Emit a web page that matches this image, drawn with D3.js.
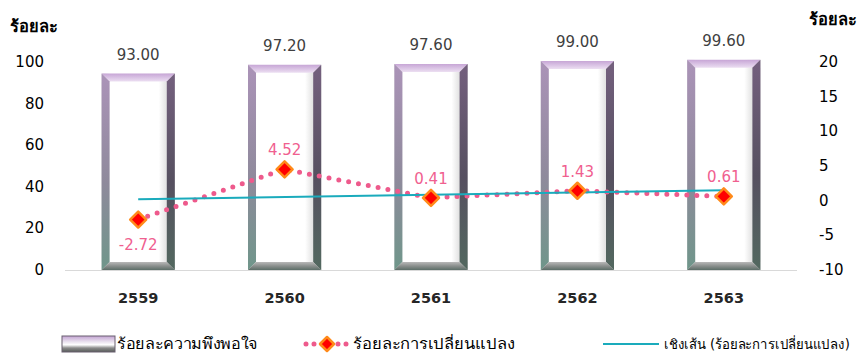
<!DOCTYPE html>
<html>
<head>
<meta charset="utf-8">
<title>chart</title>
<script src="https://cdn.jsdelivr.net/npm/d3@7"></script>
<style>
  body { margin: 0; background: #fff; }
  text { font-family: Tahoma, "DejaVu Sans", "Noto Sans", sans-serif; }
</style>
</head>
<body>
<div id="chart"></div>
<script>
var years = ["2559", "2560", "2561", "2562", "2563"];
var satisfaction = [93.00, 97.20, 97.60, 99.00, 99.60];
var change = [-2.72, 4.52, 0.41, 1.43, 0.61];
var trendEnds = [0.2, 1.5];   // trend at first and last year
var leftTicks = [0, 20, 40, 60, 80, 100];
var rightTicks = [-10, -5, 0, 5, 10, 15, 20];
var legendNames = ["ร้อยละความพึงพอใจ", "ร้อยละการเปลี่ยนแปลง", "เชิงเส้น (ร้อยละการเปลี่ยนแปลง)"];

var width = 863, height = 356;
var plotL = 65, plotR = 797, plotT = 62, plotB = 270;
var bevel = 8;

var svg = d3.select("#chart").append("svg").attr("width", width).attr("height", height);
var defs = svg.append("defs");

function grad(id, x2, y2, stops) {
  var g = defs.append("linearGradient").attr("id", id)
    .attr("x1", 0).attr("y1", 0).attr("x2", x2).attr("y2", y2);
  stops.forEach(function(s) { g.append("stop").attr("offset", s[0]).attr("stop-color", s[1]); });
}
grad("bTop", 0, 1, [[0, "#c7a6d6"], [1, "#ecdff2"]]);
grad("bLeft", 0, 1, [[0, "#ab93b8"], [0.55, "#8f8a9c"], [1, "#6f968a"]]);
grad("bRight", 0, 1, [[0, "#74607e"], [0.55, "#565060"], [1, "#52685f"]]);
grad("bBot", 0, 1, [[0, "#b8b8b8"], [0.5, "#8a8f8d"], [1, "#5c6e68"]]);
grad("inner", 1, 0, [[0, "#d6d6d6"], [0.12, "#ffffff"], [0.78, "#ffffff"], [1, "#c4c4c4"]]);
grad("legSw", 0, 1, [[0, "#c2a3d2"], [0.35, "#e9e0ee"], [0.55, "#ffffff"], [0.75, "#8b8b8b"], [1, "#555a58"]]);

var x = d3.scaleBand().domain(years).range([plotL, plotR]).paddingInner(0.5).paddingOuter(0.25);
var yL = d3.scaleLinear().domain([0, 100]).range([plotB, plotT]);
var yR = d3.scaleLinear().domain([-10, 20]).range([plotB, plotT]);

// base line
svg.append("line").attr("x1", plotL).attr("x2", plotR).attr("y1", plotB + 0.5).attr("y2", plotB + 0.5)
  .attr("stroke", "#d9d9d9").attr("stroke-width", 1);

// bars with bevel
var bw = x.bandwidth();
years.forEach(function(yr, i) {
  var x0 = x(yr), x1 = x0 + bw, y0 = yL(satisfaction[i]) - 3, y1 = plotB;
  var g = svg.append("g");
  g.append("rect").attr("x", x0).attr("y", y0).attr("width", bw).attr("height", y1 - y0).attr("fill", "url(#inner)");
  g.append("polygon").attr("points", [[x0, y0], [x1, y0], [x1 - bevel, y0 + bevel], [x0 + bevel, y0 + bevel]].join(" ")).attr("fill", "url(#bTop)");
  g.append("polygon").attr("points", [[x0, y0], [x0 + bevel, y0 + bevel], [x0 + bevel, y1 - bevel], [x0, y1]].join(" ")).attr("fill", "url(#bLeft)");
  g.append("polygon").attr("points", [[x1, y0], [x1 - bevel, y0 + bevel], [x1 - bevel, y1 - bevel], [x1, y1]].join(" ")).attr("fill", "url(#bRight)");
  g.append("polygon").attr("points", [[x0, y1], [x0 + bevel, y1 - bevel], [x1 - bevel, y1 - bevel], [x1, y1]].join(" ")).attr("fill", "url(#bBot)");
  g.append("text").attr("x", x0 + bw / 2).attr("y", y0 - 14).attr("text-anchor", "middle")
    .attr("font-size", 15).attr("fill", "#404040").text(satisfaction[i].toFixed(2));
});

var cx = function(i) { return x(years[i]) + bw / 2; };

// dotted change line
var line = d3.line().x(function(d, i) { return cx(i); }).y(function(d) { return yR(d); });
svg.append("path").datum(change).attr("d", line).attr("fill", "none")
  .attr("stroke", "#ee5a8c").attr("stroke-width", 5).attr("stroke-linecap", "round")
  .attr("stroke-dasharray", "0 10");

// trend line
svg.append("line")
  .attr("x1", cx(0)).attr("y1", yR(trendEnds[0]))
  .attr("x2", cx(years.length - 1)).attr("y2", yR(trendEnds[1]))
  .attr("stroke", "#1aabbc").attr("stroke-width", 2);

// diamonds
function diamond(g, px, py, r) {
  g.append("path").attr("d", "M" + px + "," + (py - r) + "L" + (px + r) + "," + py + "L" + px + "," + (py + r) + "L" + (px - r) + "," + py + "Z")
    .attr("fill", "#ff0000").attr("stroke", "#ff8a1a").attr("stroke-width", 2.5).attr("stroke-linejoin", "round");
}
change.forEach(function(v, i) {
  diamond(svg, cx(i), yR(v), 8);
  var ty = v < 0 ? yR(v) + 30 : yR(v) - 14;
  svg.append("text").attr("x", cx(i)).attr("y", ty).attr("text-anchor", "middle")
    .attr("font-size", 15).attr("fill", "#f0608f").text(v.toFixed(2));
});

// left axis
svg.selectAll(".lt").data(leftTicks).enter().append("text")
  .attr("x", 44).attr("y", function(d) { return yL(d) + 5; }).attr("text-anchor", "end")
  .attr("font-size", 15).attr("fill", "#000").text(function(d) { return d; });
svg.append("text").attr("x", 10).attr("y", 32).attr("font-size", 16.5).attr("font-weight", "bold").attr("fill", "#000").text("ร้อยละ");

// right axis
svg.selectAll(".rt").data(rightTicks).enter().append("text")
  .attr("x", 819).attr("y", function(d) { return yR(d) + 5; }).attr("text-anchor", "start")
  .attr("font-size", 15).attr("fill", "#000").text(function(d) { return d; });
svg.append("text").attr("x", 809).attr("y", 25).attr("font-size", 16.5).attr("font-weight", "bold").attr("fill", "#000").text("ร้อยละ");

// category labels
svg.selectAll(".cat").data(years).enter().append("text")
  .attr("x", function(d) { return x(d) + bw / 2; }).attr("y", 303).attr("text-anchor", "middle")
  .attr("font-size", 14.5).attr("font-weight", "bold").attr("fill", "#262626").text(function(d) { return d; });

// legend
var legY = 344;
var lg = svg.append("g");
lg.append("rect").attr("x", 62).attr("y", 336).attr("width", 53).attr("height", 16)
  .attr("fill", "url(#legSw)").attr("stroke", "#6a6070").attr("stroke-width", 1);
lg.append("text").attr("x", 117).attr("y", legY + 5).attr("font-size", 15).attr("fill", "#000")
  .attr("textLength", 141).attr("lengthAdjust", "spacingAndGlyphs").text(legendNames[0]);

lg.append("line").attr("x1", 306).attr("x2", 348).attr("y1", legY).attr("y2", legY)
  .attr("stroke", "#ee5a8c").attr("stroke-width", 5).attr("stroke-linecap", "round").attr("stroke-dasharray", "0 8");
diamond(lg, 327, legY, 7);
lg.append("text").attr("x", 353).attr("y", legY + 5).attr("font-size", 15).attr("fill", "#000")
  .attr("textLength", 162).attr("lengthAdjust", "spacingAndGlyphs").text(legendNames[1]);

lg.append("line").attr("x1", 603).attr("x2", 659).attr("y1", legY).attr("y2", legY).attr("stroke", "#1aabbc").attr("stroke-width", 2);
lg.append("text").attr("x", 664).attr("y", legY + 5).attr("font-size", 13.5).attr("fill", "#000")
  .attr("textLength", 186).attr("lengthAdjust", "spacingAndGlyphs").text(legendNames[2]);
</script>
</body>
</html>
